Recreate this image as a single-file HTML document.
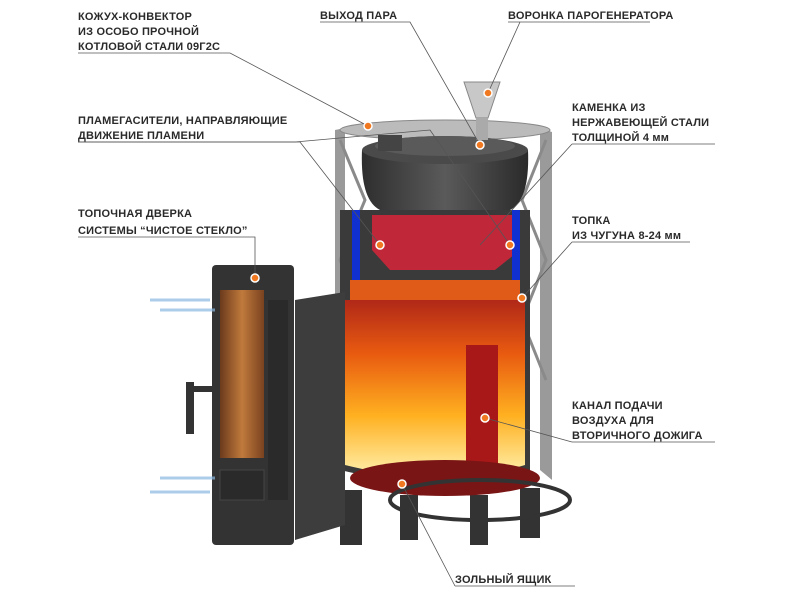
<!DOCTYPE html>
<html><head><meta charset="utf-8"><style>
html,body{margin:0;padding:0;background:#fff;width:800px;height:600px;overflow:hidden}
svg{display:block}
text{font-family:"Liberation Sans",sans-serif;font-size:11px;font-weight:bold;fill:#2a2a2a;letter-spacing:0.2px}
</style></head><body>
<svg width="800" height="600" viewBox="0 0 800 600">
<defs>
<linearGradient id="fire" x1="0" y1="1" x2="0" y2="0">
<stop offset="0" stop-color="#fff2b0"/><stop offset="0.35" stop-color="#ffb020"/><stop offset="0.7" stop-color="#e85a10"/><stop offset="1" stop-color="#b02818"/></linearGradient>
<linearGradient id="metal" x1="0" x2="1"><stop offset="0" stop-color="#2e2e2e"/><stop offset="0.5" stop-color="#5a5a5a"/><stop offset="1" stop-color="#2a2a2a"/></linearGradient>
<linearGradient id="glass" x1="0" x2="1"><stop offset="0" stop-color="#6b3a1c"/><stop offset="0.5" stop-color="#c07a3c"/><stop offset="1" stop-color="#7a4220"/></linearGradient>
</defs>
<path d="M335 130 L345 128 L345 470 L335 480 Z" fill="#9a9a9a"/>
<path d="M540 128 L552 132 L552 480 L540 470 Z" fill="#9a9a9a"/>
<g stroke="#8a8a8a" stroke-width="3" fill="none">
<path d="M340 140 L365 200 L340 260 L365 320"/>
<path d="M546 140 L522 200 L546 260 L522 320 L546 380"/>
</g>
<ellipse cx="445" cy="130" rx="105" ry="10" fill="#bbb" stroke="#888"/>
<path d="M362 150 Q360 200 380 210 L510 210 Q530 200 528 150 Z" fill="url(#metal)"/>
<ellipse cx="445" cy="150" rx="83" ry="14" fill="#4a4a4a"/>
<ellipse cx="445" cy="146" rx="70" ry="10" fill="#5a5a5a"/>
<rect x="378" y="135" width="24" height="16" fill="#444"/>
<path d="M464 82 L500 82 L488 118 L476 118 Z" fill="#c8c8c8" stroke="#888"/>
<rect x="476" y="118" width="12" height="22" fill="#aaa"/>
<path d="M340 210 L530 210 L530 470 Q445 495 340 470 Z" fill="#3a3a3a"/>
<path d="M372 215 L520 215 L520 250 L495 270 L390 270 L372 250 Z" fill="#c0283a"/>
<rect x="352" y="210" width="8" height="80" fill="#1030d0"/>
<rect x="512" y="210" width="8" height="80" fill="#1030d0"/>
<path d="M345 300 L525 300 L525 465 Q445 490 345 465 Z" fill="url(#fire)"/>
<path d="M350 280 L520 280 L520 300 L350 300 Z" fill="#e05a18"/>
<rect x="466" y="345" width="32" height="130" fill="#a81818"/>
<g fill="#333">
<rect x="340" y="490" width="22" height="55"/><rect x="400" y="495" width="18" height="45"/>
<rect x="470" y="495" width="18" height="50"/><rect x="520" y="488" width="20" height="50"/>
</g>
<ellipse cx="445" cy="478" rx="95" ry="18" fill="#7a1515"/>
<ellipse cx="480" cy="500" rx="90" ry="20" fill="none" stroke="#333" stroke-width="4"/>
<path d="M295 300 L345 292 L345 525 L295 540 Z" fill="#3d3d3d"/>
<rect x="212" y="265" width="82" height="280" rx="4" fill="#333"/>
<rect x="220" y="290" width="44" height="168" fill="url(#glass)"/>
<rect x="268" y="300" width="20" height="200" fill="#2a2a2a"/>
<rect x="220" y="470" width="44" height="30" fill="#2a2a2a" stroke="#444"/>
<rect x="186" y="382" width="8" height="52" fill="#333"/>
<rect x="190" y="386" width="24" height="6" fill="#333"/>
<g stroke="#8ab8e0" stroke-width="3" opacity="0.7">
<line x1="150" y1="300" x2="210" y2="300"/><line x1="160" y1="310" x2="215" y2="310"/>
<line x1="160" y1="478" x2="215" y2="478"/><line x1="150" y1="492" x2="210" y2="492"/>
</g>
<g stroke="#555" stroke-width="0.8" fill="none">
<path d="M78 53 L230 53 L368 126"/>
<path d="M320 22 L410 22 L480 145"/>
<path d="M508 22 L650 22"/><path d="M520 22 L488 93"/>
<path d="M78 142 L295 142 L430 130 L510 245"/>
<path d="M78 142 L300 142 L380 245"/>
<path d="M572 144 L715 144"/><path d="M572 144 L480 245"/>
<path d="M78 237 L255 237 L255 278"/>
<path d="M572 242 L690 242"/><path d="M572 242 L522 298"/>
<path d="M572 442 L715 442"/><path d="M572 442 L485 418"/>
<path d="M455 586 L575 586"/><path d="M455 586 L402 484"/>
</g>
<g fill="#f07820" stroke="#fff" stroke-width="1.5">
<circle cx="368" cy="126" r="4"/><circle cx="480" cy="145" r="4"/><circle cx="488" cy="93" r="4"/>
<circle cx="380" cy="245" r="4"/><circle cx="510" cy="245" r="4"/><circle cx="255" cy="278" r="4"/>
<circle cx="522" cy="298" r="4"/><circle cx="485" cy="418" r="4"/><circle cx="402" cy="484" r="4"/>
</g>
<text x="78" y="20">КОЖУХ-КОНВЕКТОР</text>
<text x="78" y="35">ИЗ ОСОБО ПРОЧНОЙ</text>
<text x="78" y="50">КОТЛОВОЙ СТАЛИ 09Г2С</text>
<text x="320" y="19">ВЫХОД ПАРА</text>
<text x="508" y="19">ВОРОНКА ПАРОГЕНЕРАТОРА</text>
<text x="78" y="124">ПЛАМЕГАСИТЕЛИ, НАПРАВЛЯЮЩИЕ</text>
<text x="78" y="139">ДВИЖЕНИЕ ПЛАМЕНИ</text>
<text x="572" y="111">КАМЕНКА ИЗ</text>
<text x="572" y="126">НЕРЖАВЕЮЩЕЙ СТАЛИ</text>
<text x="572" y="141">ТОЛЩИНОЙ 4 мм</text>
<text x="78" y="217">ТОПОЧНАЯ ДВЕРКА</text>
<text x="78" y="234">СИСТЕМЫ “ЧИСТОЕ СТЕКЛО”</text>
<text x="572" y="224">ТОПКА</text>
<text x="572" y="239">ИЗ ЧУГУНА 8-24 мм</text>
<text x="572" y="409">КАНАЛ ПОДАЧИ</text>
<text x="572" y="424">ВОЗДУХА ДЛЯ</text>
<text x="572" y="439">ВТОРИЧНОГО ДОЖИГА</text>
<text x="455" y="583">ЗОЛЬНЫЙ ЯЩИК</text>
</svg>
</body></html>
